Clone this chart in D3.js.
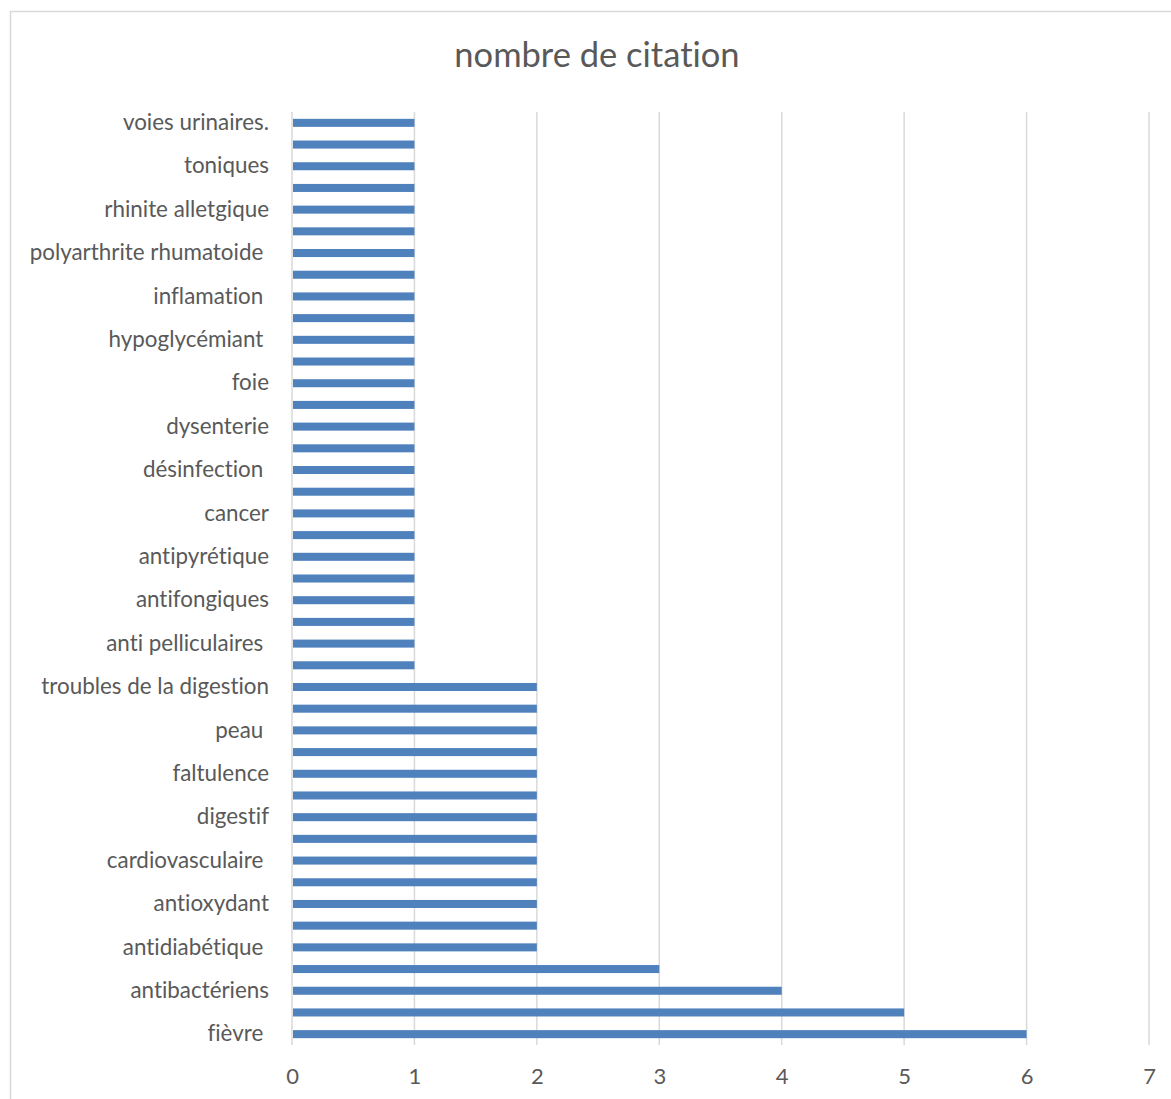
<!DOCTYPE html>
<html>
<head>
<meta charset="utf-8">
<script src="https://cdn.jsdelivr.net/npm/d3@7"></script>
<style>
  html, body { margin: 0; padding: 0; background: #fff; }
  svg text { font-family: Lato, "Open Sans", sans-serif; white-space: pre; font-variant-ligatures: none; }
</style>
</head>
<body>
<svg id="chart" width="1171" height="1099"></svg>
<script>
// Categories listed bottom-to-top; only every other one is printed on the axis
const categories = [
  "fièvre ", "diarrhée", "antibactériens", "antispasmodique",
  "antidiabétique ", "antiinflammatoire", "antioxydant", "antiseptique",
  "cardiovasculaire ", "diabète", "digestif", "douleurs",
  "faltulence", "grippe", "peau ", "rhumatisme",
  "troubles de la digestion", "anti inflammatoire", "anti pelliculaires ", "antidouleur",
  "antifongiques", "antiparasitaire", "antipyrétique", "asthme",
  "cancer", "cicatrisant", "désinfection ", "diurétique",
  "dysenterie", "fatigue", "foie", "hypertension",
  "hypoglycémiant ", "immunité", "inflamation ", "insomnie",
  "polyarthrite rhumatoide ", "respiratoire", "rhinite alletgique", "sédatif",
  "toniques", "toux", "voies urinaires."
];
const values = [
  6, 5, 4, 3,
  2, 2, 2, 2,
  2, 2, 2, 2,
  2, 2, 2, 2,
  2, 1, 1, 1,
  1, 1, 1, 1,
  1, 1, 1, 1,
  1, 1, 1, 1,
  1, 1, 1, 1,
  1, 1, 1, 1,
  1, 1, 1
];
const xTicks = [0, 1, 2, 3, 4, 5, 6, 7];
const title = "nombre de citation";

const svg = d3.select("#chart");
const plot = { left: 292, right: 1149, top: 112, bottom: 1045 };

// chart frame
svg.append("rect")
  .attr("x", 10.5).attr("y", 11.5)
  .attr("width", 1180).attr("height", 1100)
  .attr("fill", "#fff").attr("stroke", "#d9d9d9").attr("stroke-width", 1.5);

svg.append("text")
  .attr("x", 597).attr("y", 67)
  .attr("text-anchor", "middle")
  .attr("font-size", 34.5)
  .attr("fill", "#595959")
  .text(title);

const x = d3.scaleLinear().domain([0, 7]).range([plot.left, plot.right]);
const y = d3.scaleBand()
  .domain(categories.slice().reverse())
  .range([plot.top, plot.bottom])
  .paddingInner(0.63).paddingOuter(0.315);

// vertical gridlines
svg.append("g")
  .selectAll("line")
  .data(xTicks)
  .join("line")
  .attr("x1", d => x(d)).attr("x2", d => x(d))
  .attr("y1", plot.top).attr("y2", plot.bottom)
  .attr("stroke", "#d9d9d9").attr("stroke-width", 1.5);

// bars
svg.append("g")
  .selectAll("rect")
  .data(categories.map((c, i) => ({ c, v: values[i] })))
  .join("rect")
  .attr("x", x(0) + 1)
  .attr("y", d => y(d.c))
  .attr("width", d => x(d.v) - x(0) - 1)
  .attr("height", y.bandwidth())
  .attr("fill", "#4f81bd");

// category axis (every other label)
const yAxis = d3.axisLeft(y)
  .tickValues(categories.filter((c, i) => i % 2 === 0))
  .tickSize(0).tickPadding(23);
const gy = svg.append("g").attr("transform", `translate(${plot.left},0)`).call(yAxis);
gy.select(".domain").remove();
gy.selectAll("text")
  .attr("font-size", 22.4)
  .attr("fill", "#595959")
  .style("font-family", "Lato, 'Open Sans', sans-serif");

// value axis
const xAxis = d3.axisBottom(x).tickValues(xTicks).tickSize(0).tickPadding(23)
  .tickFormat(d3.format("d"));
const gx = svg.append("g").attr("transform", `translate(0,${plot.bottom})`).call(xAxis);
gx.select(".domain").remove();
gx.selectAll("text")
  .attr("font-size", 22)
  .attr("fill", "#595959")
  .style("font-family", "Lato, 'Open Sans', sans-serif");
</script>
</body>
</html>
